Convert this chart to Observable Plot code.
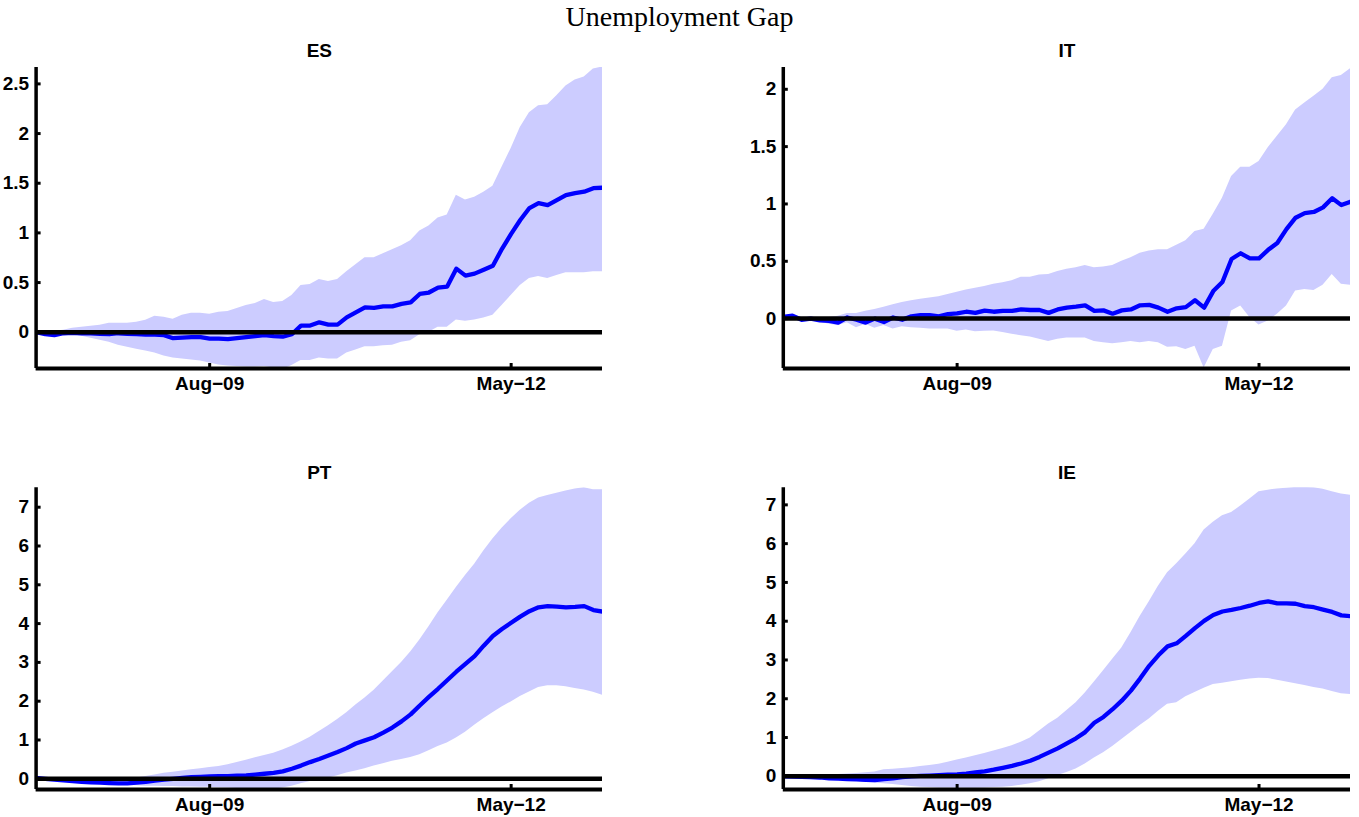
<!DOCTYPE html>
<html>
<head>
<meta charset="utf-8">
<script src="https://cdn.jsdelivr.net/npm/d3@7"></script>
<script src="https://cdn.jsdelivr.net/npm/@observablehq/plot@0.6"></script>
<style>
  html, body { margin: 0; padding: 0; background: #fff; }
  #root { position: relative; width: 1359px; height: 817px; background: #fff; overflow: hidden; }
  #title { position: absolute; left: 0; top: 3px; width: 1359px; text-align: center;
           font-family: "Liberation Serif", "DejaVu Serif", serif; font-size: 28px; line-height: 28px; color: #000; }
  .panel { position: absolute; }
</style>
</head>
<body>
<div id="root">
  <div id="title">Unemployment Gap</div>
</div>
<script>
// ---- data (month index 0 = Jan-08, 62 = Mar-13) ----
const xTickValues = [19, 52];
const xTickLabels = ["Aug\u221209", "May\u221212"];

const panelTitles = ["ES", "IT", "PT", "IE"];

const esMedian = [0.0,-0.02,-0.03,-0.01,-0.005,-0.01,-0.01,-0.015,-0.02,-0.01,-0.015,-0.02,-0.025,-0.025,-0.03,-0.06,-0.055,-0.05,-0.05,-0.065,-0.065,-0.07,-0.06,-0.05,-0.04,-0.03,-0.04,-0.045,-0.02,0.067,0.067,0.10,0.077,0.077,0.15,0.20,0.25,0.245,0.26,0.26,0.285,0.30,0.385,0.40,0.45,0.46,0.64,0.57,0.59,0.63,0.67,0.84,0.99,1.13,1.25,1.30,1.28,1.33,1.38,1.40,1.415,1.45,1.455];
const esUpper = [0.0,0.0,0.01,0.02,0.04,0.05,0.06,0.07,0.09,0.09,0.09,0.10,0.12,0.16,0.15,0.13,0.17,0.19,0.19,0.18,0.20,0.21,0.24,0.27,0.29,0.33,0.30,0.31,0.37,0.47,0.48,0.53,0.51,0.53,0.61,0.68,0.75,0.75,0.79,0.83,0.87,0.92,1.02,1.07,1.15,1.18,1.38,1.33,1.36,1.41,1.47,1.66,1.85,2.06,2.21,2.28,2.29,2.38,2.48,2.54,2.57,2.65,2.67];
const esLower = [0.0,-0.03,-0.04,-0.03,-0.03,-0.04,-0.06,-0.08,-0.10,-0.13,-0.15,-0.17,-0.19,-0.21,-0.24,-0.26,-0.27,-0.28,-0.29,-0.31,-0.33,-0.34,-0.345,-0.35,-0.35,-0.345,-0.36,-0.375,-0.335,-0.285,-0.285,-0.26,-0.27,-0.27,-0.21,-0.18,-0.145,-0.145,-0.135,-0.13,-0.10,-0.085,-0.025,0.0,0.05,0.05,0.124,0.11,0.124,0.144,0.17,0.27,0.37,0.47,0.54,0.56,0.54,0.57,0.60,0.60,0.60,0.61,0.61];

const itMedian = [0.015,0.025,-0.01,0.0,-0.015,-0.02,-0.035,0.01,-0.01,-0.035,0.0,-0.03,0.01,-0.01,0.02,0.03,0.03,0.02,0.04,0.045,0.06,0.05,0.07,0.06,0.067,0.067,0.08,0.075,0.075,0.05,0.08,0.096,0.104,0.116,0.067,0.072,0.043,0.072,0.08,0.116,0.12,0.096,0.06,0.09,0.10,0.16,0.096,0.24,0.32,0.52,0.57,0.525,0.525,0.60,0.66,0.78,0.88,0.92,0.93,0.97,1.05,0.99,1.02];
const itUpper = [0.02,0.035,0.01,0.015,0.01,0.01,0.02,0.045,0.045,0.065,0.08,0.10,0.12,0.14,0.155,0.17,0.18,0.19,0.21,0.23,0.25,0.265,0.28,0.30,0.313,0.33,0.36,0.36,0.38,0.385,0.41,0.43,0.443,0.464,0.443,0.45,0.464,0.50,0.53,0.57,0.59,0.60,0.60,0.64,0.68,0.76,0.78,0.91,1.05,1.24,1.32,1.32,1.37,1.49,1.59,1.69,1.82,1.88,1.94,2.00,2.10,2.12,2.18];
const itLower = [-0.01,-0.01,-0.02,-0.015,-0.03,-0.05,-0.06,-0.035,-0.08,-0.05,-0.085,-0.06,-0.09,-0.07,-0.08,-0.085,-0.09,-0.09,-0.09,-0.11,-0.10,-0.115,-0.11,-0.107,-0.12,-0.136,-0.15,-0.16,-0.18,-0.20,-0.18,-0.17,-0.17,-0.17,-0.20,-0.21,-0.22,-0.21,-0.20,-0.21,-0.20,-0.21,-0.25,-0.246,-0.27,-0.24,-0.43,-0.27,-0.24,0.067,0.11,0.01,-0.055,-0.02,0.038,0.11,0.24,0.255,0.246,0.29,0.385,0.30,0.29];

const ptMedian = [0.02,0.0,-0.02,-0.04,-0.06,-0.08,-0.09,-0.1,-0.11,-0.12,-0.12,-0.1,-0.08,-0.05,-0.02,0.0,0.02,0.04,0.05,0.06,0.07,0.07,0.08,0.09,0.11,0.13,0.15,0.19,0.26,0.34,0.43,0.51,0.6,0.69,0.79,0.91,0.99,1.07,1.19,1.32,1.48,1.66,1.89,2.11,2.32,2.54,2.76,2.96,3.16,3.43,3.68,3.86,4.02,4.18,4.32,4.42,4.45,4.44,4.42,4.43,4.45,4.35,4.31];
const ptUpper = [0.03,0.01,0.0,-0.01,-0.02,-0.03,-0.04,-0.04,-0.04,-0.03,-0.01,0.02,0.06,0.1,0.14,0.17,0.2,0.23,0.26,0.29,0.32,0.36,0.42,0.48,0.54,0.6,0.66,0.74,0.84,0.95,1.07,1.22,1.37,1.53,1.70,1.90,2.08,2.28,2.52,2.76,3.0,3.27,3.58,3.92,4.28,4.6,4.93,5.24,5.53,5.87,6.18,6.46,6.7,6.92,7.10,7.24,7.30,7.36,7.42,7.47,7.50,7.45,7.45];
const ptLower = [0.01,-0.02,-0.04,-0.07,-0.09,-0.11,-0.13,-0.14,-0.15,-0.16,-0.17,-0.18,-0.19,-0.19,-0.2,-0.2,-0.21,-0.21,-0.22,-0.22,-0.23,-0.24,-0.25,-0.26,-0.27,-0.27,-0.27,-0.24,-0.19,-0.13,-0.07,-0.02,0.02,0.08,0.15,0.2,0.26,0.33,0.39,0.45,0.50,0.55,0.62,0.72,0.83,0.92,1.05,1.2,1.38,1.55,1.7,1.85,1.98,2.12,2.24,2.35,2.4,2.4,2.37,2.33,2.29,2.23,2.15];

const ieMedian = [0.0,-0.01,-0.015,-0.02,-0.03,-0.05,-0.06,-0.07,-0.08,-0.09,-0.1,-0.07,-0.05,-0.02,0.0,0.01,0.02,0.03,0.04,0.05,0.07,0.10,0.13,0.17,0.22,0.27,0.33,0.40,0.50,0.61,0.72,0.85,0.98,1.14,1.38,1.53,1.73,1.95,2.21,2.52,2.85,3.12,3.35,3.43,3.62,3.82,4.01,4.16,4.25,4.29,4.34,4.40,4.47,4.51,4.46,4.46,4.45,4.39,4.36,4.30,4.24,4.15,4.13];
const ieUpper = [0.01,0.01,0.02,0.03,0.04,0.045,0.05,0.06,0.07,0.09,0.11,0.17,0.18,0.2,0.22,0.25,0.28,0.31,0.36,0.42,0.47,0.53,0.59,0.65,0.72,0.79,0.88,0.99,1.17,1.35,1.50,1.70,1.90,2.15,2.43,2.72,3.02,3.31,3.70,4.12,4.5,4.9,5.25,5.48,5.73,6.0,6.35,6.55,6.72,6.80,6.97,7.15,7.34,7.38,7.41,7.43,7.45,7.45,7.44,7.40,7.34,7.28,7.25];
const ieLower = [-0.01,-0.02,-0.03,-0.05,-0.06,-0.08,-0.09,-0.11,-0.13,-0.15,-0.17,-0.19,-0.21,-0.24,-0.26,-0.28,-0.29,-0.3,-0.3,-0.3,-0.31,-0.31,-0.3,-0.29,-0.28,-0.26,-0.23,-0.19,-0.14,-0.06,0.02,0.1,0.19,0.32,0.47,0.61,0.77,0.95,1.13,1.31,1.48,1.68,1.86,1.9,2.05,2.16,2.27,2.37,2.40,2.44,2.48,2.51,2.53,2.52,2.48,2.43,2.39,2.34,2.29,2.25,2.19,2.13,2.11];

const esYTicks = [0, 0.5, 1, 1.5, 2, 2.5];
const itYTicks = [0, 0.5, 1, 1.5, 2];
const ptYTicks = [0, 1, 2, 3, 4, 5, 6, 7];
const ieYTicks = [0, 1, 2, 3, 4, 5, 6, 7];

const esYDomain = [-0.365, 2.665];
const itYDomain = [-0.435, 2.19];
const ptYDomain = [-0.276, 7.5];
const ieYDomain = [-0.34, 7.44];

// ---- drawing ----
const BAND = "#ccccff";
const LINE = "#0000ff";
const FONT = "'Liberation Sans', Arial, Helvetica, sans-serif";

function panel(cfg) {
  const {title, median, lower, upper, yDomain, yTicks, left, top, width, height, mL, mR, mT, mB, titleDy} = cfg;
  const data = median.map((m, i) => ({i, m, lo: lower[i], hi: upper[i]}));
  const xDomain = [0, median.length - 1];
  const fw = width - mL - mR, fh = height - mT - mB;
  const tickLenX = (xDomain[1] - xDomain[0]) * 5 / fw;
  const tickLenY = (yDomain[1] - yDomain[0]) * 5 / fh;
  const svg = Plot.plot({
    width, height,
    marginLeft: mL, marginRight: mR, marginTop: mT, marginBottom: mB,
    style: {fontFamily: FONT, fontSize: "19px", fontWeight: "bold", color: "#000", background: "transparent", overflow: "visible"},
    x: {domain: xDomain, axis: null},
    y: {domain: yDomain, axis: null},
    marks: [
      Plot.areaY(data, {x: "i", y1: "lo", y2: "hi", fill: BAND, clip: true}),
      Plot.lineY(data, {x: "i", y: "m", stroke: LINE, strokeWidth: 4.3, clip: true}),
      Plot.ruleY([0], {stroke: "#000", strokeWidth: 4.5}),
      Plot.ruleX([xDomain[0]], {stroke: "#000", strokeWidth: 3.5}),
      Plot.ruleY([yDomain[0]], {stroke: "#000", strokeWidth: 4}),
      Plot.ruleY(yTicks, {x1: xDomain[0], x2: xDomain[0] + tickLenX, stroke: "#000", strokeWidth: 3}),
      Plot.ruleX(xTickValues, {y1: yDomain[0], y2: yDomain[0] + tickLenY, stroke: "#000", strokeWidth: 3}),
      Plot.axisY({ticks: yTicks, label: null, tickSize: 0, tickPadding: 7, tickFormat: d => String(d), fontSize: 19, fontWeight: "bold", fill: "#000"}),
      Plot.axisX({ticks: xTickValues, label: null, tickSize: 0, tickPadding: 8, tickFormat: d => xTickLabels[xTickValues.indexOf(d)], fontSize: 19, fontWeight: "bold", fill: "#000"}),
      Plot.text([title], {frameAnchor: "top", dy: titleDy, fontSize: 19, fontWeight: "bold", fill: "#000"})
    ]
  });
  const div = document.createElement("div");
  div.className = "panel";
  div.style.left = left + "px";
  div.style.top = top + "px";
  div.appendChild(svg);
  document.getElementById("root").appendChild(div);
}

panel({title: panelTitles[0], median: esMedian, lower: esLower, upper: esUpper, yDomain: esYDomain, yTicks: esYTicks,
       left: 0, top: 0, width: 680, height: 410, mL: 35.6, mR: 78, mT: 67, mB: 42, titleDy: -24});
panel({title: panelTitles[1], median: itMedian, lower: itLower, upper: itUpper, yDomain: itYDomain, yTicks: itYTicks,
       left: 680, top: 0, width: 679, height: 410, mL: 102.8, mR: 9, mT: 67, mB: 42, titleDy: -24});
panel({title: panelTitles[2], median: ptMedian, lower: ptLower, upper: ptUpper, yDomain: ptYDomain, yTicks: ptYTicks,
       left: 0, top: 410, width: 680, height: 407, mL: 35.6, mR: 78, mT: 77.3, mB: 28, titleDy: -22});
panel({title: panelTitles[3], median: ieMedian, lower: ieLower, upper: ieUpper, yDomain: ieYDomain, yTicks: ieYTicks,
       left: 680, top: 410, width: 679, height: 407, mL: 102.8, mR: 9, mT: 77.3, mB: 28, titleDy: -22});
</script>
</body>
</html>
